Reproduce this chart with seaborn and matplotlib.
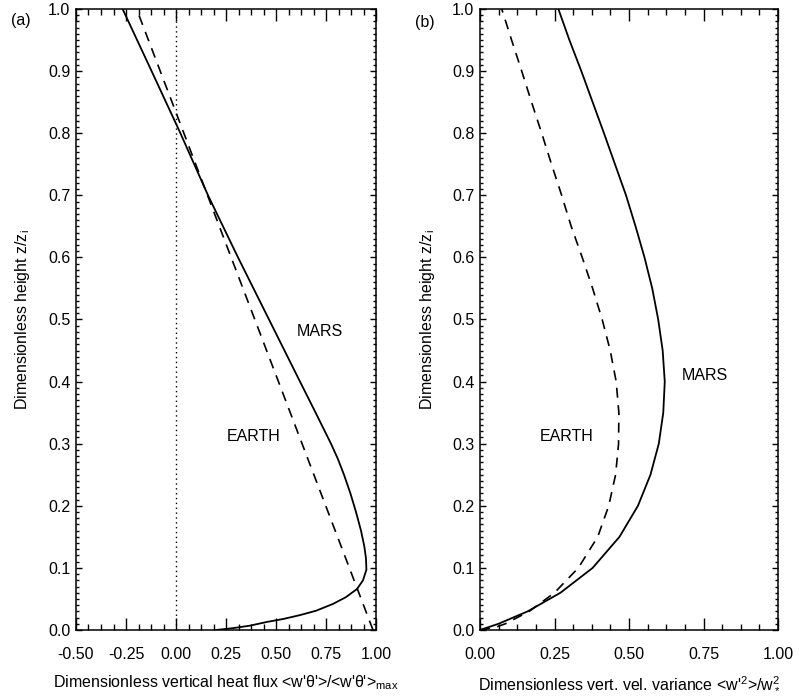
import matplotlib
matplotlib.use("Agg")
import matplotlib.pyplot as plt
from matplotlib.ticker import MultipleLocator, FormatStrFormatter
import seaborn as sns

# panel (a): vertical heat flux profiles
mars_flux = [0.20, 0.285, 0.37, 0.455, 0.54, 0.62, 0.70, 0.785, 0.85, 0.905, 0.935,
             0.952, 0.95, 0.942, 0.925, 0.90, 0.872, 0.84, 0.81, 0.775, 0.698, 0.62,
             0.465, 0.31, 0.16, 0.022, -0.122, -0.267]
mars_flux_z = [0.0, 0.003, 0.007, 0.013, 0.018, 0.024, 0.031, 0.042, 0.053, 0.066, 0.08,
               0.097, 0.115, 0.134, 0.16, 0.19, 0.22, 0.25, 0.275, 0.30, 0.35, 0.40,
               0.50, 0.60, 0.70, 0.80, 0.90, 1.0]
earth_flux = [0.985, 0.394, -0.197]
earth_flux_z = [0.0, 0.5, 1.0]

# panel (b): vertical velocity variance profiles
mars_var = [0.0, 0.062, 0.16, 0.27, 0.378, 0.468, 0.53, 0.572, 0.60, 0.615, 0.62,
            0.613, 0.598, 0.578, 0.552, 0.522, 0.49, 0.453, 0.416, 0.378, 0.34,
            0.30, 0.263]
mars_var_z = [0.0, 0.01, 0.03, 0.06, 0.10, 0.15, 0.20, 0.25, 0.30, 0.35, 0.40,
              0.45, 0.50, 0.55, 0.60, 0.65, 0.70, 0.75, 0.80, 0.85, 0.90,
              0.95, 1.0]
earth_var = [0.0, 0.055, 0.085, 0.165, 0.25, 0.33, 0.395, 0.432, 0.455, 0.465, 0.466,
             0.457, 0.437, 0.41, 0.378, 0.343, 0.306, 0.274, 0.24, 0.207, 0.173,
             0.14, 0.106, 0.073]
earth_var_z = [0.0, 0.005, 0.01, 0.03, 0.06, 0.10, 0.15, 0.20, 0.25, 0.30, 0.35,
               0.40, 0.45, 0.50, 0.55, 0.60, 0.65, 0.70, 0.75, 0.80, 0.85,
               0.90, 0.95, 1.0]

sns.set_style("ticks", {"axes.edgecolor": "black", "text.color": "black",
                        "xtick.color": "black", "ytick.color": "black",
                        "axes.labelcolor": "black"})
plt.rcParams["font.family"] = ["Liberation Sans", "DejaVu Sans"]
plt.rcParams["mathtext.default"] = "regular"
plt.rcParams["axes.unicode_minus"] = False
plt.rcParams["axes.linewidth"] = 1.1

FS = 11.5
dashed = (0, (6, 4.5))

fig = plt.figure(figsize=(8.01, 6.96), dpi=100)
W, H = 801, 696
ax_a = fig.add_axes([76 / W, 1 - 630 / H, 300 / W, 621 / H])
ax_b = fig.add_axes([480 / W, 1 - 630 / H, 298 / W, 621 / H])

# (a)
ax_a.axvline(0, color="black", lw=1.0, linestyle=(0, (1, 2.5)))
sns.lineplot(x=mars_flux, y=mars_flux_z, sort=False, estimator=None, ax=ax_a,
             color="black", lw=1.3)
sns.lineplot(x=earth_flux, y=earth_flux_z, sort=False, estimator=None, ax=ax_a,
             color="black", lw=1.2, linestyle=dashed)
ax_a.set_xlim(-0.5, 1.0)
ax_a.text(0.72, 0.48, "MARS", fontsize=FS, ha="center", va="center")
ax_a.text(0.39, 0.311, "EARTH", fontsize=FS, ha="center", va="center")
ax_a.set_xlabel("Dimensionless vertical heat flux <w'θ'>/<w'θ'>$_{max}$", fontsize=FS)

# (b)
sns.lineplot(x=mars_var, y=mars_var_z, sort=False, estimator=None, ax=ax_b,
             color="black", lw=1.3)
sns.lineplot(x=earth_var, y=earth_var_z, sort=False, estimator=None, ax=ax_b,
             color="black", lw=1.2, linestyle=dashed)
ax_b.set_xlim(0.0, 1.0)
ax_b.text(0.755, 0.41, "MARS", fontsize=FS, ha="center", va="center")
ax_b.text(0.29, 0.311, "EARTH", fontsize=FS, ha="center", va="center")
ax_b.set_xlabel("Dimensionless vert. vel. variance <w'$^{2}$>/w$_*^{2}$", fontsize=FS)

for ax, ylx in [(ax_a, -0.163), (ax_b, -0.161)]:
    ax.set_ylim(0.0, 1.0)
    ax.xaxis.set_major_locator(MultipleLocator(0.25))
    ax.xaxis.set_minor_locator(MultipleLocator(0.0625))
    ax.yaxis.set_major_locator(MultipleLocator(0.1))
    ax.yaxis.set_minor_locator(MultipleLocator(0.01))
    ax.xaxis.set_major_formatter(FormatStrFormatter("%.2f"))
    ax.yaxis.set_major_formatter(FormatStrFormatter("%.1f"))
    ax.tick_params(which="both", direction="in", top=True, right=True,
                   width=1.0, labelsize=FS)
    ax.tick_params(axis="x", which="major", length=8.6, pad=12)
    ax.tick_params(axis="x", which="minor", length=4.3)
    ax.tick_params(axis="y", which="major", length=4.3, pad=4)
    ax.tick_params(axis="y", which="minor", length=2.2)
    ax.set_ylabel("Dimensionless height z/z$_{i}$", fontsize=FS)
    ax.yaxis.set_label_coords(ylx, 0.5)
    ax.yaxis.label.set_va("baseline")
    ax.xaxis.set_label_coords(0.5, -0.092)
    ax.xaxis.label.set_va("baseline")
    for s in ax.spines.values():
        s.set_linewidth(1.1)

fig.text(21 / W, 1 - 21 / H, "(a)", fontsize=FS, ha="center", va="center")
fig.text(425 / W, 1 - 22 / H, "(b)", fontsize=FS, ha="center", va="center")

fig.savefig("out.png", dpi=100)
